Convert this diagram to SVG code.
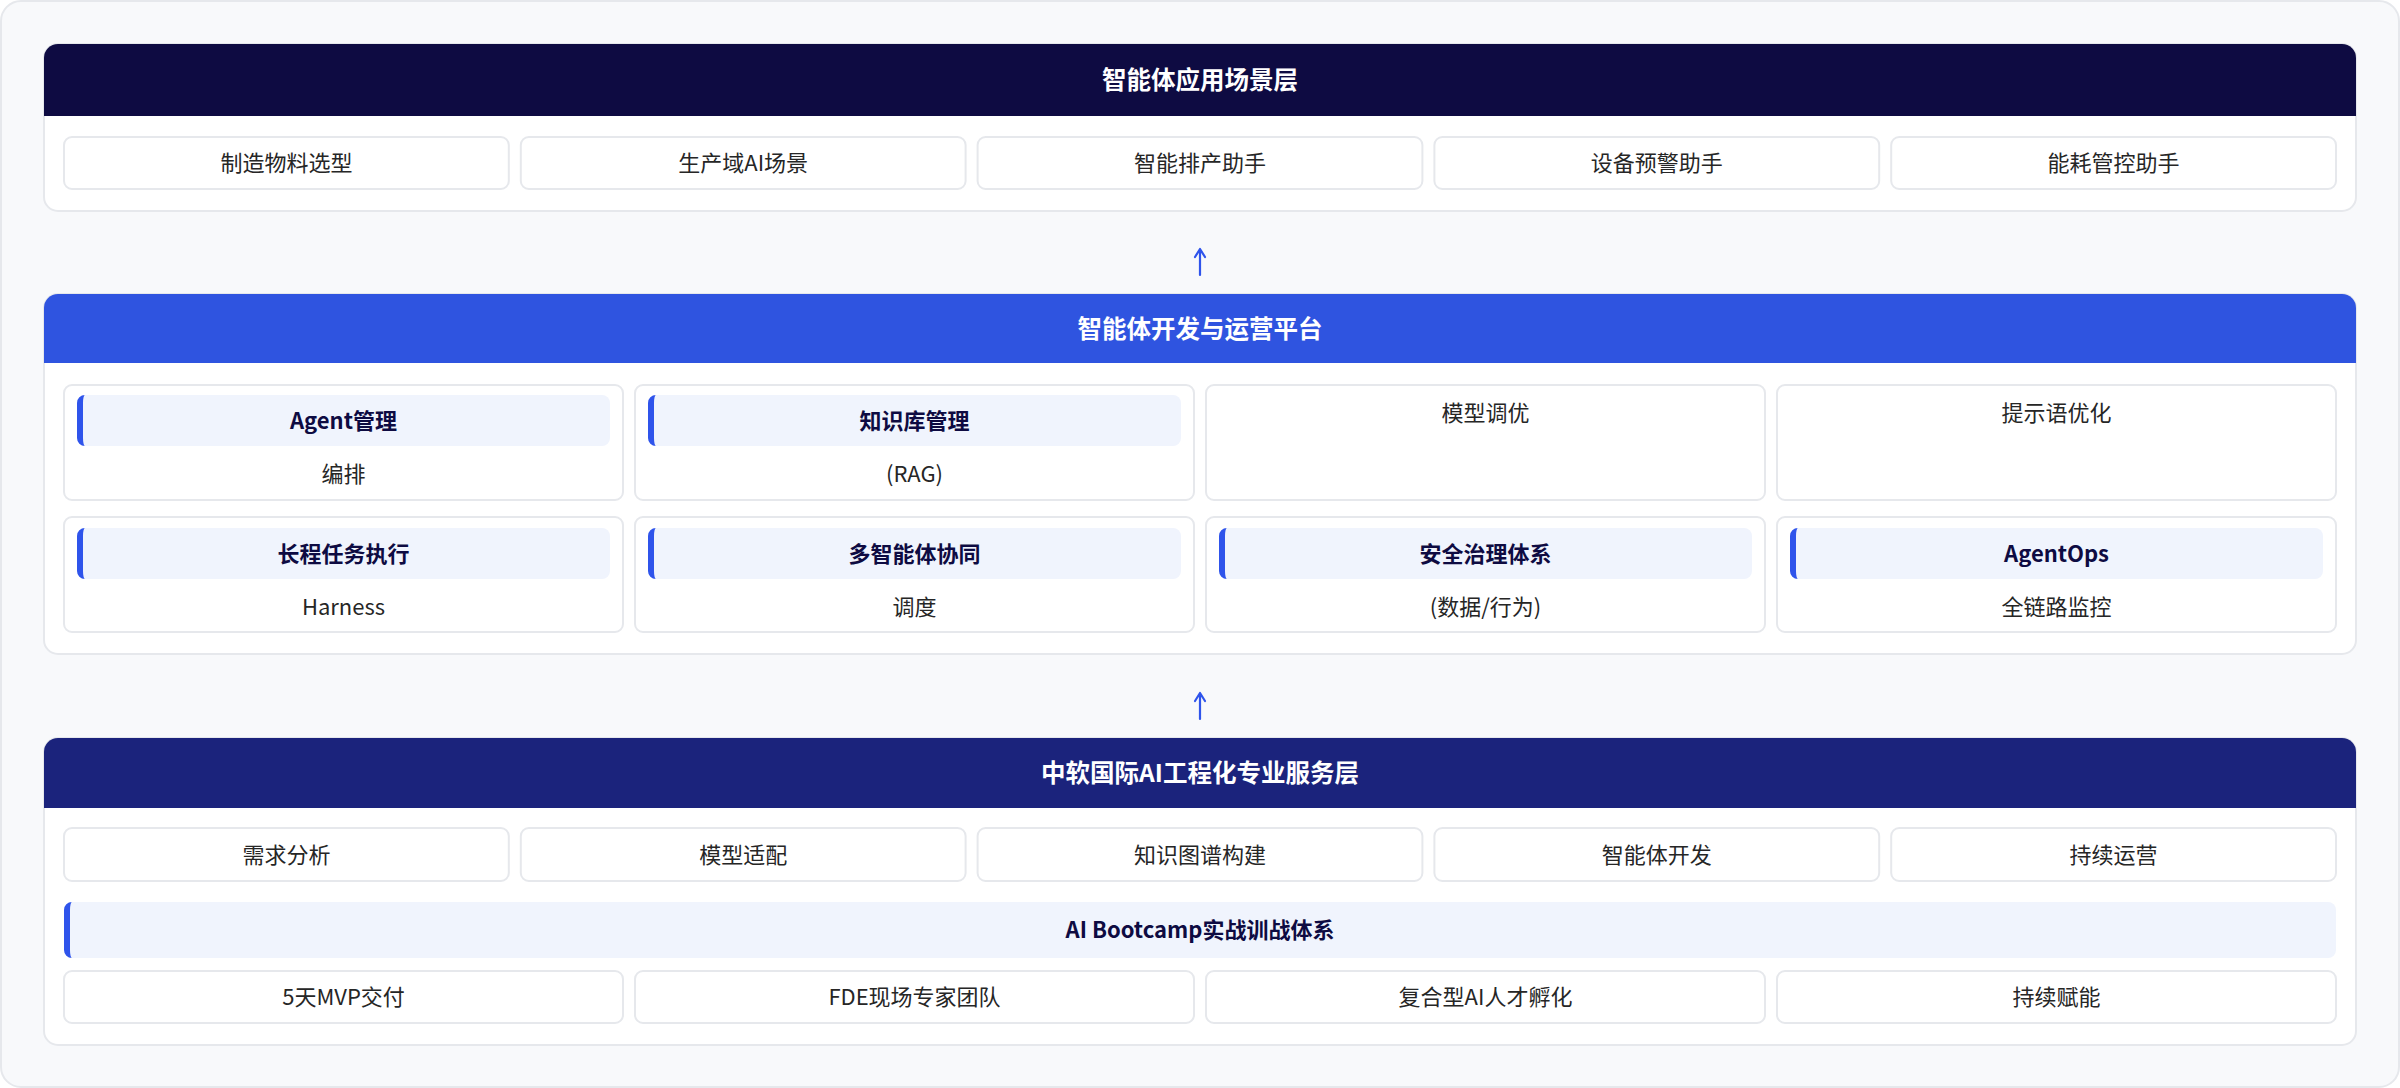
<svg xmlns="http://www.w3.org/2000/svg" xmlns:xlink="http://www.w3.org/1999/xlink" width="2400" height="1088" viewBox="0 0 2400 1088">
<style>
.frame{fill:#f8f9fb;stroke:#e6e8ec;stroke-width:2}
.card{fill:#ffffff;stroke:#e6e8ec;stroke-width:2}
.box{fill:#ffffff;stroke:#e6e8ec;stroke-width:2}
.bar{fill:#f0f4fd}
.accent{fill:#2f54eb}
.h1{fill:#0e0b42}
.h2{fill:#2f54e0}
.h3{fill:#1b237c}
.ht{font-family:"Noto Sans CJK SC","Noto Sans",sans-serif;font-size:24.5px;font-weight:700;fill:#ffffff;text-anchor:middle}
.t{font-family:"Noto Sans CJK SC","Noto Sans",sans-serif;font-size:22px;fill:#262626;text-anchor:middle}
.tb{font-family:"Noto Sans CJK SC","Noto Sans",sans-serif;font-size:22px;font-weight:700;fill:#0e0b42;text-anchor:middle}
.arrow{fill:none;stroke:#2f54eb;stroke-width:2.2;stroke-linecap:round;stroke-linejoin:round}
</style>
<defs>
<path id="acc51" class="accent" d="M8,0 A8,8 0 0 0 0,8 V43 A8,8 0 0 0 8,51 A2,8 0 0 1 6,43 V8 A2,8 0 0 1 8,0 Z"/>
<path id="acc56" class="accent" d="M8,0 A8,8 0 0 0 0,8 V48 A8,8 0 0 0 8,56 A2,8 0 0 1 6,48 V8 A2,8 0 0 1 8,0 Z"/>
</defs>

<rect id="frame" class="frame" x="1" y="1" width="2398" height="1086" rx="20"/>

<!-- Layer 1 -->
<g id="layer-app">
<rect class="card" x="44" y="44" width="2312" height="167" rx="14"/>
<path class="h1" d="M44,116 V58 A14,14 0 0 1 58,44 H2342 A14,14 0 0 1 2356,58 V116 Z"/>
<text class="ht" x="1200" y="89">智能体应用场景层</text>
</g>
<g id="app-1"><rect class="box" x="64" y="137" width="444.8" height="52" rx="8"/><text class="t" x="286.4" y="171">制造物料选型</text></g>
<g id="app-2"><rect class="box" x="520.8" y="137" width="444.8" height="52" rx="8"/><text class="t" x="743.2" y="171">生产域AI场景</text></g>
<g id="app-3"><rect class="box" x="977.6" y="137" width="444.8" height="52" rx="8"/><text class="t" x="1200" y="171">智能排产助手</text></g>
<g id="app-4"><rect class="box" x="1434.4" y="137" width="444.8" height="52" rx="8"/><text class="t" x="1656.8" y="171">设备预警助手</text></g>
<g id="app-5"><rect class="box" x="1891.2" y="137" width="444.8" height="52" rx="8"/><text class="t" x="2113.6" y="171">能耗管控助手</text></g>

<!-- Layer 2 -->
<g id="layer-platform">
<rect class="card" x="44" y="294" width="2312" height="360" rx="14"/>
<path class="h2" d="M44,363 V308 A14,14 0 0 1 58,294 H2342 A14,14 0 0 1 2356,308 V363 Z"/>
<text class="ht" x="1200" y="338">智能体开发与运营平台</text>
</g>
<g id="pf-agent">
<rect class="box" x="64" y="385" width="559" height="115" rx="8"/>
<rect class="bar" x="77" y="395" width="533" height="51" rx="8"/><use xlink:href="#acc51" x="77" y="395"/>
<text class="tb" x="343.5" y="429">Agent管理</text>
<text class="t" x="343.5" y="482">编排</text>
</g>
<g id="pf-kb">
<rect class="box" x="635" y="385" width="559" height="115" rx="8"/>
<rect class="bar" x="648" y="395" width="533" height="51" rx="8"/><use xlink:href="#acc51" x="648" y="395"/>
<text class="tb" x="914.5" y="429">知识库管理</text>
<text class="t" x="914.5" y="482">(RAG)</text>
</g>
<g id="pf-tune">
<rect class="box" x="1206" y="385" width="559" height="115" rx="8"/>
<text class="t" x="1485.5" y="421">模型调优</text>
</g>
<g id="pf-prompt">
<rect class="box" x="1777" y="385" width="559" height="115" rx="8"/>
<text class="t" x="2056.5" y="421">提示语优化</text>
</g>
<g id="pf-long">
<rect class="box" x="64" y="517" width="559" height="115" rx="8"/>
<rect class="bar" x="77" y="528" width="533" height="51" rx="8"/><use xlink:href="#acc51" x="77" y="528"/>
<text class="tb" x="343.5" y="562">长程任务执行</text>
<text class="t" x="343.5" y="615">Harness</text>
</g>
<g id="pf-multi">
<rect class="box" x="635" y="517" width="559" height="115" rx="8"/>
<rect class="bar" x="648" y="528" width="533" height="51" rx="8"/><use xlink:href="#acc51" x="648" y="528"/>
<text class="tb" x="914.5" y="562">多智能体协同</text>
<text class="t" x="914.5" y="615">调度</text>
</g>
<g id="pf-sec">
<rect class="box" x="1206" y="517" width="559" height="115" rx="8"/>
<rect class="bar" x="1219" y="528" width="533" height="51" rx="8"/><use xlink:href="#acc51" x="1219" y="528"/>
<text class="tb" x="1485.5" y="562">安全治理体系</text>
<text class="t" x="1485.5" y="615">(数据/行为)</text>
</g>
<g id="pf-ops">
<rect class="box" x="1777" y="517" width="559" height="115" rx="8"/>
<rect class="bar" x="1790" y="528" width="533" height="51" rx="8"/><use xlink:href="#acc51" x="1790" y="528"/>
<text class="tb" x="2056.5" y="562">AgentOps</text>
<text class="t" x="2056.5" y="615">全链路监控</text>
</g>

<!-- Layer 3 -->
<g id="layer-service">
<rect class="card" x="44" y="738" width="2312" height="307" rx="14"/>
<path class="h3" d="M44,808 V752 A14,14 0 0 1 58,738 H2342 A14,14 0 0 1 2356,752 V808 Z"/>
<text class="ht" x="1200" y="782">中软国际AI工程化专业服务层</text>
</g>
<g id="sv-1"><rect class="box" x="64" y="828" width="444.8" height="53" rx="8"/><text class="t" x="286.4" y="863">需求分析</text></g>
<g id="sv-2"><rect class="box" x="520.8" y="828" width="444.8" height="53" rx="8"/><text class="t" x="743.2" y="863">模型适配</text></g>
<g id="sv-3"><rect class="box" x="977.6" y="828" width="444.8" height="53" rx="8"/><text class="t" x="1200" y="863">知识图谱构建</text></g>
<g id="sv-4"><rect class="box" x="1434.4" y="828" width="444.8" height="53" rx="8"/><text class="t" x="1656.8" y="863">智能体开发</text></g>
<g id="sv-5"><rect class="box" x="1891.2" y="828" width="444.8" height="53" rx="8"/><text class="t" x="2113.6" y="863">持续运营</text></g>
<g id="bootcamp">
<rect class="bar" x="64" y="902" width="2272" height="56" rx="8"/><use xlink:href="#acc56" x="64" y="902"/>
<text class="tb" x="1200" y="938">AI Bootcamp实战训战体系</text>
</g>
<g id="bc-1"><rect class="box" x="64" y="971" width="559" height="52" rx="8"/><text class="t" x="343.5" y="1005">5天MVP交付</text></g>
<g id="bc-2"><rect class="box" x="635" y="971" width="559" height="52" rx="8"/><text class="t" x="914.5" y="1005">FDE现场专家团队</text></g>
<g id="bc-3"><rect class="box" x="1206" y="971" width="559" height="52" rx="8"/><text class="t" x="1485.5" y="1005">复合型AI人才孵化</text></g>
<g id="bc-4"><rect class="box" x="1777" y="971" width="559" height="52" rx="8"/><text class="t" x="2056.5" y="1005">持续赋能</text></g>

<!-- Connectors -->
<g id="connectors">
<path class="arrow" d="M1200,275 V249 M1195,257 L1200,249 L1205,257"/>
<path class="arrow" d="M1200,719 V693 M1195,701 L1200,693 L1205,701"/>
</g>
</svg>
